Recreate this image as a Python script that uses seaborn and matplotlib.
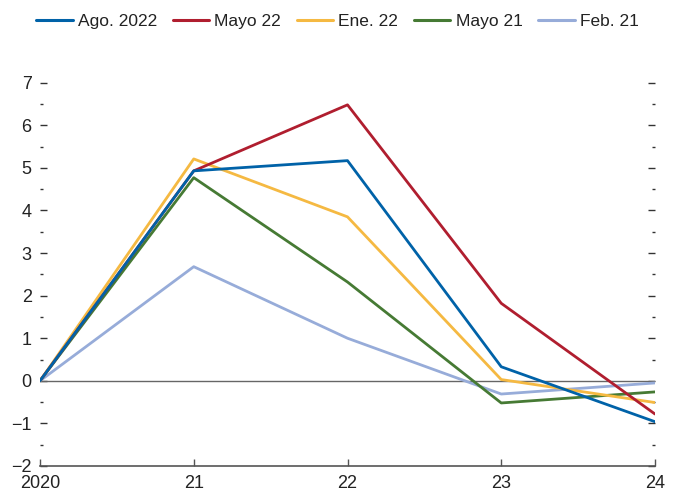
import matplotlib
matplotlib.use("Agg")
import matplotlib.pyplot as plt
import pandas as pd
import seaborn as sns

years = [2020, 2021, 2022, 2023, 2024]
year_labels = ["2020", "21", "22", "23", "24"]
y_major = [-2, -1, 0, 1, 2, 3, 4, 5, 6, 7]
y_minor = [-1.5, -0.5, 0.5, 1.5, 2.5, 3.5, 4.5, 5.5, 6.5]

series_names = ["Ago. 2022", "Mayo 22", "Ene. 22", "Mayo 21", "Feb. 21"]
ago_2022 = [0.0, 4.93, 5.17, 0.33, -0.96]
mayo_22 = [0.0, 4.93, 6.48, 1.82, -0.78]
ene_22 = [0.0, 5.21, 3.85, 0.03, -0.51]
mayo_21 = [0.0, 4.77, 2.32, -0.52, -0.26]
feb_21 = [0.0, 2.68, 1.00, -0.31, -0.05]

colors = ["#0062a8", "#b01e2f", "#f5b942", "#467a34", "#97acd9"]

values = [ago_2022, mayo_22, ene_22, mayo_21, feb_21]
rows = []
for name, vals in zip(series_names, values):
    for yr, v in zip(years, vals):
        rows.append({"year": yr, "value": v, "series": name})
df = pd.DataFrame(rows)

sns.set_style("white")
plt.rcParams["font.family"] = ["Liberation Sans", "DejaVu Sans"]

fig = plt.figure(figsize=(6.79, 4.96), dpi=100)
ax = fig.add_axes([40 / 679, 1 - 466 / 496, 615 / 679, (466 - 82.7) / 496])

ax.axhline(0, color="#666666", lw=1.0, zorder=1)

sns.lineplot(data=df, x="year", y="value", hue="series",
             hue_order=series_names[::-1], palette=colors[::-1],
             lw=2.0, ax=ax, legend=False, zorder=3)

ax.set_xlim(2020, 2024)
ax.set_ylim(-2, 7)
ax.set_xticks(years)
ax.set_xticklabels(year_labels)
ax.set_yticks(y_major)
ax.set_yticks(y_minor, minor=True)
ax.set_yticklabels([("\u2212" if t < 0 else "") + str(abs(t)) for t in y_major])
ax.set_xlabel("")
ax.set_ylabel("")

for side in ["top", "left", "right"]:
    ax.spines[side].set_visible(False)
ax.spines["bottom"].set_color("#555555")
ax.spines["bottom"].set_linewidth(1.2)

ax.tick_params(axis="y", which="major", direction="in", length=5, width=1,
               color="#333333", left=True, right=True, labelsize=13,
               pad=6, labelcolor="#222222")
ax.tick_params(axis="y", which="minor", direction="in", length=2.5, width=1,
               color="#333333", left=True, right=True)
ax.tick_params(axis="x", direction="in", length=5, width=1, color="#555555",
               bottom=True, labelsize=13, pad=6.5, labelcolor="#222222")

handles = [plt.Line2D([], [], color=c, lw=2.2) for c in colors]
fig.legend(handles, series_names, loc="center", bbox_to_anchor=(0.497, 1 - 21.7 / 496),
           ncol=5, frameon=False, fontsize=12.5, handlelength=2.1,
           handletextpad=0.3, columnspacing=0.9, borderaxespad=0,
           labelcolor="#222222")

fig.savefig("out.png", dpi=100)
